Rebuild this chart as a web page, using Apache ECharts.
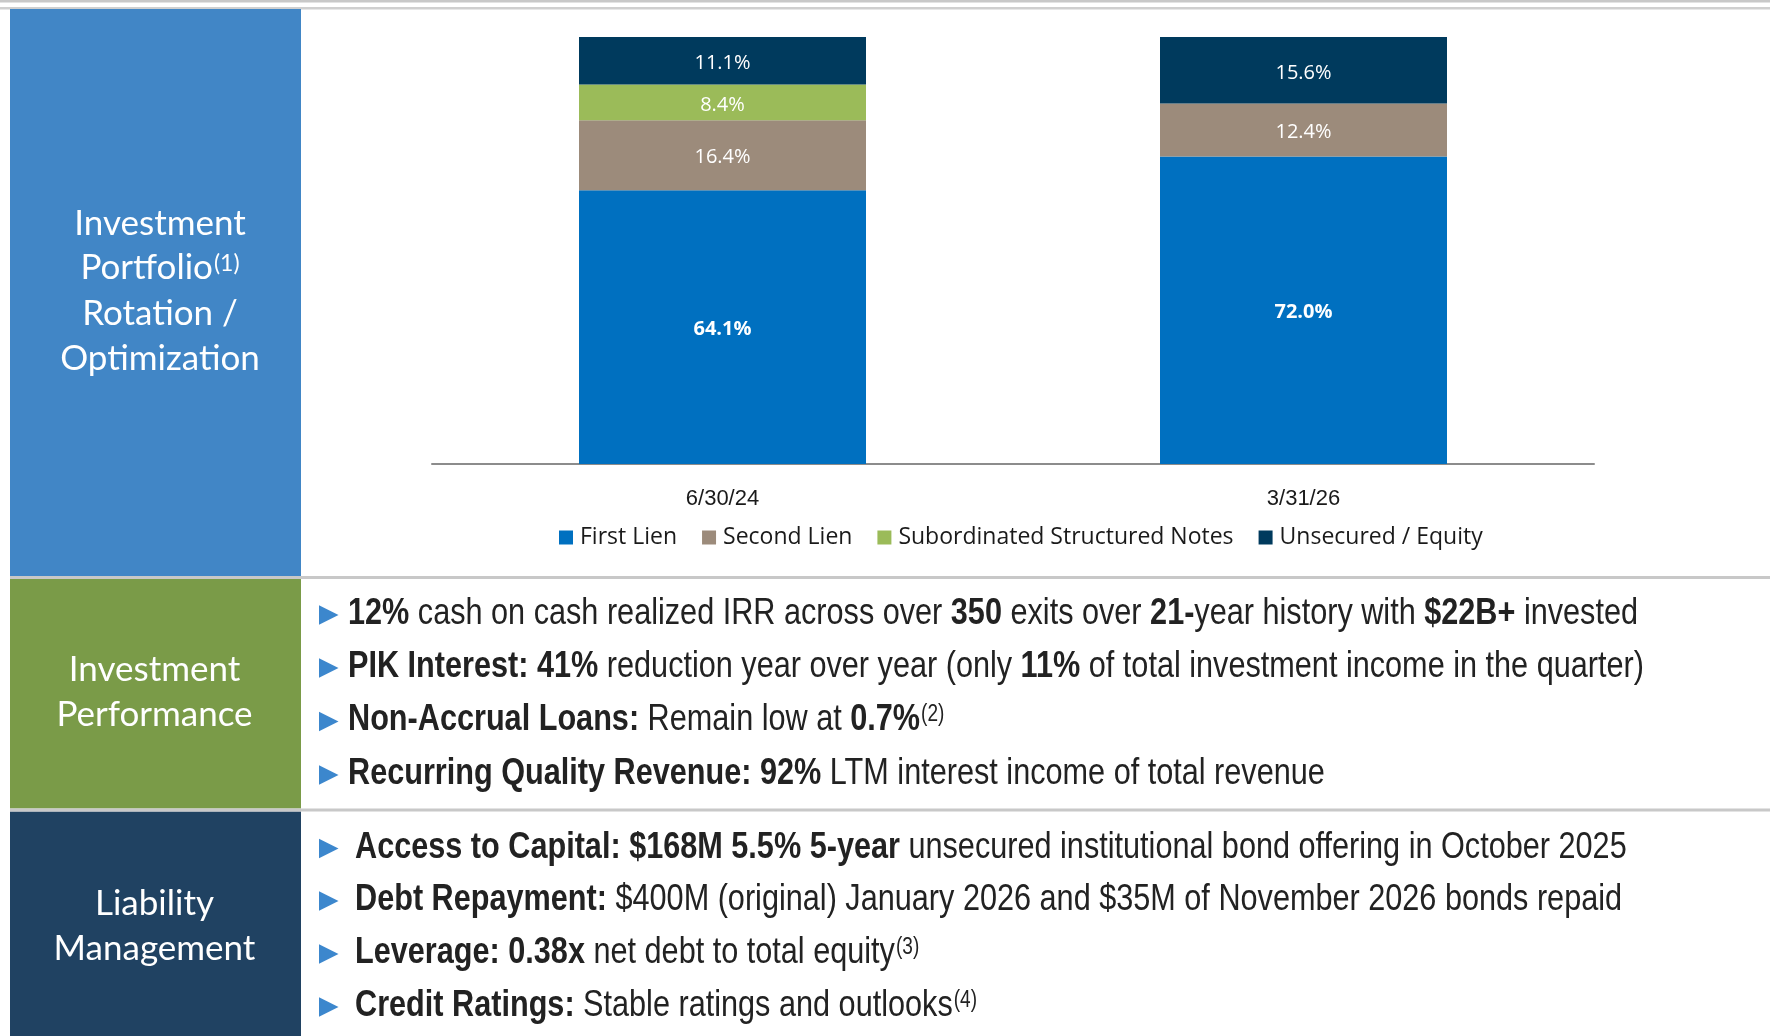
<!DOCTYPE html>
<html><head><meta charset="utf-8">
<script src="https://cdn.jsdelivr.net/npm/echarts@6/dist/echarts.min.js"></script>
<style>html,body{margin:0;padding:0;background:#fff}#c{width:1770px;height:1036px}</style>
</head><body><div id="c"></div>
<script>
// ---- chart data ----
const categories = ['6/30/24', '3/31/26'];
const firstLien = [64.1, 72.0];
const secondLien = [16.4, 12.4];
const subNotes = [8.4, '-'];
const unsecured = [11.1, 15.6];
const seriesNames = ['First Lien', 'Second Lien', 'Subordinated Structured Notes', 'Unsecured / Equity'];
const seriesColors = ['#0070C0', '#9C8B7B', '#9BBB59', '#003A5D'];

// ---- text content ----
const panelTitles = {
  portfolio: ['Investment', 'Portfolio', 'Rotation /', 'Optimization'],
  performance: ['Investment', 'Performance'],
  liability: ['Liability', 'Management']
};
const perfLines = [
  [['b', '12%'], ['r', ' cash on cash realized IRR across over '], ['b', '350'], ['r', ' exits over '], ['b', '21-'], ['r', 'year history with '], ['b', '$22B+'], ['r', ' invested']],
  [['b', 'PIK Interest: 41%'], ['r', ' reduction year over year (only '], ['b', '11%'], ['r', ' of total investment income in the quarter)']],
  [['b', 'Non-Accrual Loans:'], ['r', ' Remain low at '], ['b', '0.7%'], ['s', '(2)']],
  [['b', 'Recurring Quality Revenue: 92%'], ['r', ' LTM interest income of total revenue']]
];
const liabLines = [
  [['b', 'Access to Capital: $168M 5.5% 5-year'], ['r', ' unsecured institutional bond offering in October 2025']],
  [['b', 'Debt Repayment:'], ['r', ' $400M (original) January 2026 and $35M of November 2026 bonds repaid']],
  [['b', 'Leverage: 0.38x'], ['r', ' net debt to total equity'], ['s', '(3)']],
  [['b', 'Credit Ratings:'], ['r', ' Stable ratings and outlooks'], ['s', '(4)']]
];

// ---- helpers ----
const TXT = '#222222';
const BF = '"Liberation Sans", Arial, sans-serif';
const ctx = document.createElement('canvas').getContext('2d');
function fontFor(k) {
  return k === 'b' ? 'bold 37px ' + BF : '37px ' + BF;
}
function mainWidth(line) {
  let w = 0;
  line.forEach(([k, t]) => { if (k !== 's') { ctx.font = fontFor(k); w += ctx.measureText(t).width; } });
  return w;
}
const sx = 1290 / mainWidth(perfLines[0]);
const rich = {
  b: { fontFamily: BF, fontWeight: 'bold', fontSize: 37, fill: TXT, lineHeight: 44 },
  r: { fontFamily: BF, fontWeight: 'normal', fontSize: 37, fill: TXT, lineHeight: 44 }
};
function bulletEls(line, x, y, triY) {
  const els = [];
  els.push({
    type: 'polygon', shape: { points: [[319, triY - 9.7], [319, triY + 9.7], [338.5, triY]] },
    style: { fill: '#3C87CD' }
  });
  const main = line.filter(s => s[0] !== 's');
  els.push({
    type: 'text', x: x, y: y, scaleX: sx,
    style: { text: main.map(([k, t]) => '{' + k + '|' + t + '}').join(''), rich: rich, align: 'left', verticalAlign: 'middle', fill: TXT }
  });
  const sup = line.find(s => s[0] === 's');
  if (sup) {
    els.push({
      type: 'text', x: x + mainWidth(line) * sx + 1, y: y - 5, scaleX: sx,
      style: { text: sup[1], fontFamily: BF, fontSize: 23, fill: TXT, align: 'left', verticalAlign: 'middle' }
    });
  }
  return els;
}
const PF = 'Lato, "Open Sans", sans-serif';
function panelText(t, x, y) {
  return { type: 'text', x: x, y: y, style: { text: t, fontFamily: PF, fontSize: 35, fill: '#ffffff', align: 'center', verticalAlign: 'middle' } };
}

// ---- graphic layout ----
const graphic = [];
graphic.push({ type: 'rect', shape: { x: 0, y: 0, width: 1770, height: 2.5 }, style: { fill: '#C8C8C8' } });
graphic.push({ type: 'rect', shape: { x: 0, y: 7, width: 1770, height: 2.5 }, style: { fill: '#CFCFCF' } });
graphic.push({ type: 'rect', shape: { x: 10, y: 9, width: 291, height: 567 }, style: { fill: '#4186C6' } });
graphic.push({ type: 'rect', shape: { x: 10, y: 579, width: 291, height: 229.5 }, style: { fill: '#7A9B48' } });
graphic.push({ type: 'rect', shape: { x: 10, y: 811.5, width: 291, height: 225 }, style: { fill: '#204262' } });
graphic.push({ type: 'rect', shape: { x: 10, y: 576, width: 1760, height: 3 }, style: { fill: '#C8C8C8' } });
graphic.push({ type: 'rect', shape: { x: 10, y: 808.5, width: 1760, height: 3 }, style: { fill: '#C8C8C8' } });

// top panel titles
const ptY = [223.5, 268, 313.5, 359];
graphic.push(panelText(panelTitles.portfolio[0], 160, ptY[0]));
(function () {
  ctx.font = '35px ' + PF;
  const w1 = ctx.measureText(panelTitles.portfolio[1]).width;
  ctx.font = '23px ' + PF;
  const w2 = ctx.measureText('(1)').width;
  const x0 = 160 - (w1 + w2 + 1) / 2;
  graphic.push({ type: 'text', x: x0, y: ptY[1], style: { text: panelTitles.portfolio[1], fontFamily: PF, fontSize: 35, fill: '#fff', align: 'left', verticalAlign: 'middle' } });
  graphic.push({ type: 'text', x: x0 + w1 + 1, y: ptY[1] - 4, style: { text: '(1)', fontFamily: PF, fontSize: 23, fill: '#fff', align: 'left', verticalAlign: 'middle' } });
})();
graphic.push(panelText(panelTitles.portfolio[2], 160, ptY[2]));
graphic.push(panelText(panelTitles.portfolio[3], 160, ptY[3]));
graphic.push(panelText(panelTitles.performance[0], 154.5, 669.5));
graphic.push(panelText(panelTitles.performance[1], 154.5, 714.5));
graphic.push(panelText(panelTitles.liability[0], 154.5, 904));
graphic.push(panelText(panelTitles.liability[1], 154.5, 949));

const perfY = [613.5, 666.5, 720, 773.5];
const perfTri = [615, 668, 721.5, 775];
perfLines.forEach((l, i) => graphic.push(...bulletEls(l, 348, perfY[i], perfTri[i])));
const liabY = [847.5, 900, 953, 1006];
const liabTri = [848.5, 901, 954, 1007];
liabLines.forEach((l, i) => graphic.push(...bulletEls(l, 355, liabY[i], liabTri[i])));

// ---- chart ----
const LF = '"Open Sans", Lato, sans-serif';
function mkSeries(name, data, color, bold) {
  return {
    name: name, type: 'bar', stack: 'total', data: data, barWidth: 287,
    itemStyle: { color: color },
    label: {
      show: true, position: 'inside', offset: [0, 2.5], color: '#ffffff', fontFamily: LF, fontSize: 20,
      fontWeight: bold ? 'bold' : 'normal',
      formatter: p => Number(p.value).toFixed(1) + '%'
    },
    emphasis: { disabled: true }
  };
}
const chart = echarts.init(document.getElementById('c'), null, { renderer: 'canvas' });
chart.setOption({
  animation: false,
  grid: { left: 432, right: 176, top: 37, bottom: 572 },
  xAxis: {
    type: 'category', data: categories,
    axisLine: { lineStyle: { color: '#8C8C8C', width: 2 } },
    axisTick: { show: false },
    axisLabel: { fontFamily: BF, fontSize: 22, color: '#1a1a1a', margin: 24 }
  },
  yAxis: { type: 'value', min: 0, max: 100, show: false },
  legend: {
    left: 559, top: 526, padding: 0, itemGap: 25, itemWidth: 14, itemHeight: 14, icon: 'rect',
    textStyle: { fontFamily: LF, fontSize: 23, color: '#1a1a1a', padding: [0, 0, 0, 2] },
    data: seriesNames
  },
  series: [
    mkSeries(seriesNames[0], firstLien, seriesColors[0], true),
    mkSeries(seriesNames[1], secondLien, seriesColors[1], false),
    mkSeries(seriesNames[2], subNotes, seriesColors[2], false),
    mkSeries(seriesNames[3], unsecured, seriesColors[3], false)
  ],
  graphic: graphic
});
</script>
</body></html>
